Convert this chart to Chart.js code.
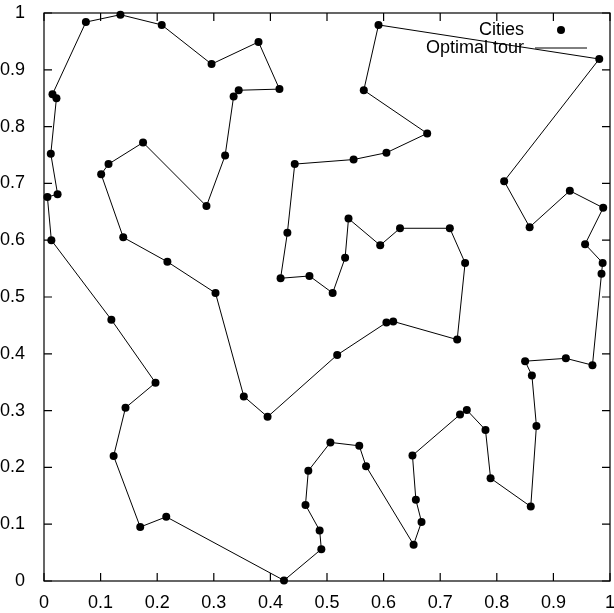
<!DOCTYPE html>
<html>
<head>
<meta charset="utf-8">
<script src="https://cdn.jsdelivr.net/npm/chart.js@4.4.0/dist/chart.umd.min.js"></script>
<style>
html, body { margin: 0; padding: 0; background: #fff; }
canvas { display: block; }
</style>
</head>
<body>
<canvas id="tourChart" width="614" height="613"></canvas>
<script>
// cities, listed in tour order
const cityX = [0.981, 0.591, 0.565, 0.677, 0.605, 0.547, 0.443, 0.430, 0.418, 0.469,
               0.510, 0.532, 0.538, 0.594, 0.629, 0.717, 0.744, 0.730, 0.617, 0.605,
               0.518, 0.395, 0.353, 0.303, 0.218, 0.140, 0.101, 0.114, 0.175, 0.287,
               0.320, 0.335, 0.344, 0.416, 0.379, 0.296, 0.208, 0.135, 0.074, 0.015,
               0.022, 0.012, 0.024, 0.006, 0.013, 0.119, 0.197, 0.144, 0.123, 0.170,
               0.216, 0.424, 0.490, 0.487, 0.462, 0.467, 0.506, 0.557, 0.569, 0.653,
               0.667, 0.657, 0.651, 0.735, 0.747, 0.780, 0.789, 0.860, 0.870, 0.862,
               0.850, 0.922, 0.969, 0.985, 0.987, 0.956, 0.988, 0.929, 0.858, 0.813];
const cityY = [0.919, 0.979, 0.864, 0.788, 0.754, 0.742, 0.734, 0.613, 0.533, 0.537,
               0.507, 0.569, 0.638, 0.591, 0.621, 0.621, 0.560, 0.425, 0.457, 0.455,
               0.398, 0.289, 0.325, 0.507, 0.562, 0.605, 0.716, 0.734, 0.772, 0.660,
               0.749, 0.853, 0.864, 0.866, 0.949, 0.910, 0.979, 0.997, 0.984, 0.857,
               0.850, 0.752, 0.681, 0.676, 0.600, 0.460, 0.349, 0.305, 0.220, 0.095,
               0.113, 0.001, 0.056, 0.089, 0.134, 0.194, 0.244, 0.238, 0.202, 0.064,
               0.104, 0.143, 0.221, 0.293, 0.301, 0.266, 0.181, 0.131, 0.273, 0.362,
               0.387, 0.392, 0.380, 0.541, 0.560, 0.593, 0.657, 0.687, 0.623, 0.704];
const xTicks = [0, 0.1, 0.2, 0.3, 0.4, 0.5, 0.6, 0.7, 0.8, 0.9, 1];
const yTicks = [0, 0.1, 0.2, 0.3, 0.4, 0.5, 0.6, 0.7, 0.8, 0.9, 1];
const xTickLabels = ["0", "0.1", "0.2", "0.3", "0.4", "0.5", "0.6", "0.7", "0.8", "0.9", "1"];
const yTickLabels = ["0", "0.1", "0.2", "0.3", "0.4", "0.5", "0.6", "0.7", "0.8", "0.9", "1"];
const seriesNames = ["Cities", "Optimal tour"];

const FONT = "'Liberation Sans', Arial, Helvetica, sans-serif";
Chart.defaults.color = "#000";
Chart.defaults.font.family = FONT;
Chart.defaults.font.size = 18;

const cities = cityX.map((x, i) => ({ x: x, y: cityY[i] }));
// the tour goes back to where it started
const tour = cities.concat([cities[0]]);

// gnuplot style: box round the plot, ticks pointing in on all four sides, key top right
const gnuplotFrame = {
    id: "gnuplotFrame",
    afterDatasetsDraw(chart) {
        const { ctx, chartArea: a, scales } = chart;
        const tl = 8;
        ctx.save();
        ctx.strokeStyle = "#000";
        ctx.lineWidth = 1.2;
        ctx.strokeRect(a.left, a.top, a.right - a.left, a.bottom - a.top);
        ctx.beginPath();
        xTicks.forEach(v => {
            const px = scales.x.getPixelForValue(v);
            ctx.moveTo(px, a.bottom); ctx.lineTo(px, a.bottom - tl);
            ctx.moveTo(px, a.top); ctx.lineTo(px, a.top + tl);
        });
        yTicks.forEach(v => {
            const py = scales.y.getPixelForValue(v);
            ctx.moveTo(a.left, py); ctx.lineTo(a.left + tl, py);
            ctx.moveTo(a.right, py); ctx.lineTo(a.right - tl, py);
        });
        ctx.stroke();

        // key
        ctx.font = "18px " + FONT;
        ctx.fillStyle = "#000";
        ctx.textAlign = "right";
        ctx.textBaseline = "middle";
        ctx.fillText(seriesNames[0], a.right - 86, a.top + 17);
        ctx.fillText(seriesNames[1], a.right - 86, a.top + 35);
        ctx.beginPath();
        ctx.arc(a.right - 49, a.top + 17, 4, 0, Math.PI * 2);
        ctx.fill();
        ctx.lineWidth = 1;
        ctx.beginPath();
        ctx.moveTo(a.right - 75, a.top + 35);
        ctx.lineTo(a.right - 23, a.top + 35);
        ctx.stroke();
        ctx.restore();
    }
};

new Chart(document.getElementById("tourChart"), {
    type: "scatter",
    data: {
        datasets: [{
            label: seriesNames[1],
            data: tour,
            showLine: true,
            borderColor: "#000",
            borderWidth: 1,
            pointRadius: 0,
            clip: false
        }, {
            label: seriesNames[0],
            data: cities,
            showLine: false,
            backgroundColor: "#000",
            borderColor: "#000",
            borderWidth: 0,
            pointRadius: 4,
            clip: false
        }]
    },
    options: {
        responsive: false,
        animation: false,
        devicePixelRatio: 1,
        layout: { padding: { top: 13, right: 3.5, left: 0, bottom: 0 } },
        plugins: { legend: { display: false }, tooltip: { enabled: false } },
        scales: {
            x: {
                type: "linear",
                min: 0, max: 1,
                grid: { display: false },
                border: { display: false },
                afterBuildTicks: s => { s.ticks = xTicks.map(v => ({ value: v })); },
                ticks: { padding: 3, maxRotation: 0, autoSkip: false,
                         callback: (v, i) => xTickLabels[i] },
                afterFit: s => { s.height = 32; s.paddingLeft = 0; s.paddingRight = 0; }
            },
            y: {
                type: "linear",
                min: 0, max: 1,
                grid: { display: false },
                border: { display: false },
                afterBuildTicks: s => { s.ticks = yTicks.map(v => ({ value: v })); },
                ticks: { padding: 11, autoSkip: false,
                         callback: (v, i) => yTickLabels[i] },
                afterFit: s => { s.width = 44; s.paddingTop = 0; s.paddingBottom = 0; }
            }
        }
    },
    plugins: [gnuplotFrame]
});
</script>
</body>
</html>
